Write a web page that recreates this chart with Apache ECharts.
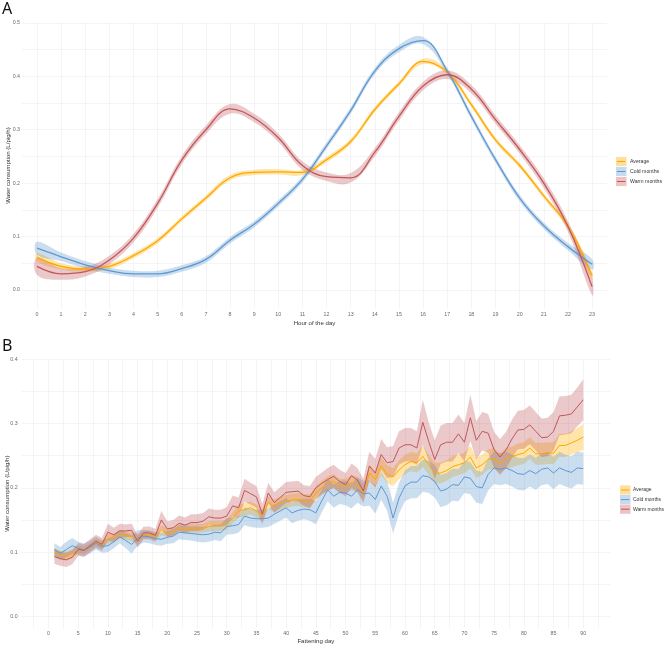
<!DOCTYPE html>
<html>
<head>
<meta charset="utf-8">
<script src="https://cdn.jsdelivr.net/npm/echarts@6/dist/echarts.min.js"></script>
<style>
  html, body { margin: 0; padding: 0; background: #fff; }
  #chart { width: 669px; height: 648px; }
</style>
</head>
<body>
<div id="chart"></div>
<script>
  // ---- panel A: hour of the day ----
  const hours = [0, 1, 2, 3, 4, 5, 6, 7, 8, 9, 10, 11, 12, 13, 14, 15, 16, 17, 18, 19, 20, 21, 22, 23]
  const avgHour = [0.061, 0.044, 0.039, 0.044, 0.064, 0.092, 0.133, 0.172, 0.210, 0.220, 0.221, 0.220,
    0.244, 0.278, 0.338, 0.386, 0.428, 0.408, 0.347, 0.281, 0.233, 0.176, 0.119, 0.027]
  const coldHour = [0.078, 0.062, 0.047, 0.036, 0.030, 0.030, 0.040, 0.057, 0.093, 0.123, 0.162, 0.207,
    0.270, 0.336, 0.410, 0.452, 0.467, 0.410, 0.325, 0.244, 0.172, 0.120, 0.081, 0.048]
  const warmHour = [0.044, 0.030, 0.034, 0.056, 0.097, 0.162, 0.243, 0.300, 0.339, 0.322, 0.285, 0.233,
    0.212, 0.210, 0.258, 0.325, 0.382, 0.403, 0.376, 0.319, 0.263, 0.200, 0.119, 0.006]
  // half width of the ribbons
  const avgHourCI = [0.008, 0.006, 0.005, 0.005, 0.005, 0.005, 0.005, 0.005, 0.005, 0.005, 0.005, 0.005,
    0.005, 0.005, 0.005, 0.005, 0.005, 0.005, 0.005, 0.005, 0.005, 0.005, 0.006, 0.008]
  const coldHourCI = [0.012, 0.008, 0.007, 0.006, 0.006, 0.006, 0.006, 0.006, 0.006, 0.006, 0.006, 0.006,
    0.006, 0.006, 0.006, 0.007, 0.007, 0.006, 0.006, 0.006, 0.006, 0.006, 0.007, 0.010]
  const warmHourCI = [0.016, 0.011, 0.009, 0.008, 0.008, 0.008, 0.008, 0.008, 0.009, 0.008, 0.008, 0.008,
    0.008, 0.009, 0.008, 0.008, 0.008, 0.008, 0.008, 0.008, 0.008, 0.009, 0.010, 0.016]
  const yLabelsA = [0, 0.1, 0.2, 0.3, 0.4, 0.5]

  // ---- panel B: fattening day ----
  const days = Array.from({ length: 90 }, (_, i) => i + 1)
  const avgDay = [0.100, 0.095, 0.094, 0.098, 0.104, 0.103, 0.108, 0.115, 0.111, 0.121,
    0.122, 0.128, 0.126, 0.124, 0.120, 0.127, 0.127, 0.124, 0.134, 0.130,
    0.132, 0.138, 0.136, 0.137, 0.137, 0.137, 0.140, 0.141, 0.141, 0.143,
    0.153, 0.164, 0.166, 0.169, 0.164, 0.157, 0.177, 0.172, 0.176, 0.179,
    0.181, 0.182, 0.180, 0.179, 0.192, 0.200, 0.207, 0.210, 0.203, 0.203,
    0.208, 0.205, 0.192, 0.223, 0.213, 0.234, 0.221, 0.217, 0.228, 0.236,
    0.241, 0.239, 0.249, 0.236, 0.223, 0.223, 0.227, 0.233, 0.236, 0.239,
    0.248, 0.231, 0.236, 0.244, 0.246, 0.238, 0.246, 0.248, 0.252, 0.254,
    0.262, 0.253, 0.253, 0.254, 0.254, 0.266, 0.266, 0.270, 0.274, 0.279]
  const coldDay = [0.104, 0.098, 0.104, 0.110, 0.106, 0.103, 0.108, 0.114, 0.109, 0.110,
    0.116, 0.124, 0.118, 0.112, 0.122, 0.125, 0.124, 0.121, 0.120, 0.123,
    0.125, 0.131, 0.130, 0.129, 0.128, 0.127, 0.128, 0.131, 0.130, 0.140,
    0.141, 0.143, 0.156, 0.153, 0.152, 0.152, 0.153, 0.159, 0.164, 0.169,
    0.161, 0.165, 0.167, 0.166, 0.161, 0.180, 0.197, 0.187, 0.193, 0.192,
    0.187, 0.197, 0.191, 0.192, 0.182, 0.203, 0.187, 0.153, 0.184, 0.203,
    0.209, 0.209, 0.219, 0.217, 0.210, 0.195, 0.198, 0.205, 0.204, 0.217,
    0.215, 0.202, 0.200, 0.221, 0.231, 0.229, 0.231, 0.227, 0.222, 0.221,
    0.227, 0.222, 0.229, 0.231, 0.223, 0.231, 0.227, 0.224, 0.231, 0.230]
  const warmDay = [0.093, 0.090, 0.088, 0.092, 0.104, 0.103, 0.110, 0.117, 0.112, 0.131,
    0.127, 0.133, 0.133, 0.134, 0.117, 0.130, 0.130, 0.126, 0.150, 0.136,
    0.138, 0.145, 0.142, 0.146, 0.146, 0.148, 0.155, 0.153, 0.153, 0.156,
    0.172, 0.169, 0.196, 0.191, 0.186, 0.159, 0.192, 0.177, 0.185, 0.193,
    0.194, 0.195, 0.188, 0.186, 0.200, 0.207, 0.213, 0.218, 0.210, 0.205,
    0.219, 0.212, 0.195, 0.234, 0.223, 0.252, 0.239, 0.241, 0.262, 0.267,
    0.267, 0.262, 0.302, 0.272, 0.244, 0.267, 0.271, 0.271, 0.284, 0.271,
    0.309, 0.274, 0.288, 0.285, 0.259, 0.248, 0.259, 0.276, 0.290, 0.291,
    0.298, 0.288, 0.278, 0.279, 0.288, 0.312, 0.313, 0.315, 0.326, 0.337]
  const avgDayCI = [0.007, 0.007, 0.007, 0.007, 0.006, 0.006, 0.006, 0.006, 0.006, 0.007,
    0.007, 0.007, 0.007, 0.007, 0.007, 0.006, 0.006, 0.006, 0.008, 0.007,
    0.007, 0.007, 0.007, 0.007, 0.007, 0.007, 0.008, 0.008, 0.008, 0.008,
    0.009, 0.010, 0.010, 0.010, 0.010, 0.010, 0.010, 0.010, 0.010, 0.010,
    0.010, 0.010, 0.010, 0.011, 0.011, 0.011, 0.011, 0.011, 0.011, 0.011,
    0.012, 0.012, 0.012, 0.013, 0.013, 0.014, 0.014, 0.014, 0.015, 0.015,
    0.015, 0.015, 0.017, 0.016, 0.016, 0.016, 0.016, 0.016, 0.016, 0.016,
    0.018, 0.016, 0.016, 0.016, 0.016, 0.016, 0.016, 0.016, 0.017, 0.017,
    0.017, 0.017, 0.017, 0.017, 0.017, 0.018, 0.018, 0.018, 0.019, 0.020]
  const coldDayCI = [0.010, 0.010, 0.012, 0.012, 0.010, 0.010, 0.010, 0.010, 0.010, 0.010,
    0.010, 0.010, 0.012, 0.014, 0.012, 0.010, 0.010, 0.010, 0.010, 0.010,
    0.011, 0.011, 0.011, 0.011, 0.012, 0.012, 0.012, 0.012, 0.013, 0.013,
    0.013, 0.013, 0.014, 0.014, 0.014, 0.014, 0.014, 0.015, 0.015, 0.015,
    0.016, 0.016, 0.016, 0.017, 0.018, 0.018, 0.018, 0.018, 0.018, 0.019,
    0.019, 0.020, 0.020, 0.020, 0.022, 0.022, 0.023, 0.024, 0.024, 0.024,
    0.025, 0.025, 0.025, 0.025, 0.025, 0.025, 0.025, 0.025, 0.025, 0.025,
    0.025, 0.025, 0.025, 0.025, 0.025, 0.025, 0.025, 0.025, 0.025, 0.025,
    0.025, 0.025, 0.025, 0.025, 0.025, 0.025, 0.025, 0.025, 0.025, 0.025]
  const warmDayCI = [0.011, 0.011, 0.011, 0.011, 0.010, 0.010, 0.010, 0.010, 0.010, 0.013,
    0.011, 0.011, 0.010, 0.010, 0.010, 0.010, 0.010, 0.010, 0.014, 0.012,
    0.012, 0.012, 0.012, 0.013, 0.013, 0.013, 0.013, 0.013, 0.013, 0.014,
    0.016, 0.016, 0.018, 0.017, 0.017, 0.016, 0.016, 0.016, 0.016, 0.016,
    0.016, 0.016, 0.016, 0.017, 0.017, 0.017, 0.018, 0.018, 0.018, 0.018,
    0.019, 0.019, 0.019, 0.022, 0.022, 0.024, 0.024, 0.024, 0.026, 0.026,
    0.026, 0.026, 0.035, 0.030, 0.030, 0.030, 0.030, 0.030, 0.030, 0.030,
    0.036, 0.030, 0.030, 0.030, 0.028, 0.028, 0.028, 0.030, 0.030, 0.030,
    0.030, 0.030, 0.030, 0.030, 0.030, 0.030, 0.030, 0.030, 0.030, 0.032]
  const dayLabels = [0, 5, 10, 15, 20, 25, 30, 35, 40, 45, 50, 55, 60, 65, 70, 75, 80, 85, 90]
  const yLabelsB = [0, 0.1, 0.2, 0.3, 0.4]

  const groups = ['Average', 'Cold months', 'Warm months']
  const lineColors = ['#FFA600', '#5E97D1', '#C2565B']
  const fillColors = ['rgba(255,186,30,0.38)', 'rgba(94,151,209,0.32)', 'rgba(194,86,91,0.32)']
  const keyFills = ['#FFDF9E', '#C6DBF0', '#EDC3C4']

  // grid line positions (major + minor)
  function steps (from, to, step) {
    const out = []
    for (let v = from; v <= to + 1e-9; v += step) out.push(Math.round(v * 1000) / 1000)
    return out
  }
  const gridYA = steps(0, 0.5, 0.05)
  const gridXB = steps(-2.5, 92.5, 2.5)
  const gridYB = steps(0, 0.4, 0.05)

  const labelStyle = { fontFamily: 'Liberation Sans', fontSize: 5.3, color: '#6b6b6b' }
  const nameStyle = { fontFamily: 'Liberation Sans', fontSize: 6.1, color: '#333' }
  const gridLine = { lineStyle: { color: '#ececec', width: 0.6 } }

  function band (xs, mean, ci, fill, idx, smooth) {
    const lo = mean.map((v, i) => v - ci[i])
    const hi = mean.map((v, i) => v + ci[i])
    return {
      type: 'custom',
      xAxisIndex: idx,
      yAxisIndex: idx,
      silent: true,
      data: xs.map((x, i) => [x, lo[i], hi[i]]),
      encode: { x: 0, y: [1, 2] },
      renderItem (params, api) {
        if (params.dataIndex !== 0) return
        const pts = []
        for (let i = 0; i < xs.length; i++) pts.push(api.coord([xs[i], hi[i]]))
        for (let i = xs.length - 1; i >= 0; i--) pts.push(api.coord([xs[i], lo[i]]))
        return {
          type: 'polygon',
          shape: { points: pts, smooth: smooth },
          style: { fill: fill }
        }
      }
    }
  }

  function line (name, xs, mean, color, idx, width, smooth) {
    return {
      name: name,
      type: 'line',
      xAxisIndex: idx,
      yAxisIndex: idx,
      data: xs.map((x, i) => [x, mean[i]]),
      symbol: 'none',
      smooth: smooth,
      lineStyle: { color: color, width: width },
      silent: true
    }
  }

  function legendKeys (x, y0, gap, textX, size) {
    const els = []
    groups.forEach((g, i) => {
      const cy = y0 + i * gap
      els.push({ type: 'rect', left: x, top: cy - 4.6, shape: { width: 10.5, height: 9.2 }, style: { fill: keyFills[i] } })
      els.push({ type: 'line', shape: { x1: x + 1, y1: cy, x2: x + 9.5, y2: cy }, style: { stroke: lineColors[i], lineWidth: 1 } })
      els.push({ type: 'text', x: textX, y: cy, style: { text: g, fontFamily: 'Liberation Sans', fontSize: size, fill: '#333', verticalAlign: 'middle' } })
    })
    return els
  }

  const hourData = [avgHour, coldHour, warmHour]
  const hourCI = [avgHourCI, coldHourCI, warmHourCI]
  const dayData = [avgDay, coldDay, warmDay]
  const dayCI = [avgDayCI, coldDayCI, warmDayCI]

  const series = []
  groups.forEach((g, i) => series.push(band(hours, hourData[i], hourCI[i], fillColors[i], 0, 0.4)))
  groups.forEach((g, i) => series.push(band(days, dayData[i], dayCI[i], fillColors[i], 1, 0)))
  groups.forEach((g, i) => series.push(line(g, hours, hourData[i], lineColors[i], 0, 1.3, 0.4)))
  groups.forEach((g, i) => series.push(line(g, days, dayData[i], lineColors[i], 1, 1, false)))

  const option = {
    animation: false,
    backgroundColor: '#fff',
    grid: [
      { left: 22, right: 62, top: 23, height: 285, containLabel: false, outerBoundsMode: 'none' },
      { left: 21.7, right: 59, top: 359.3, height: 268.7, containLabel: false, outerBoundsMode: 'none' }
    ],
    xAxis: [
      {
        gridIndex: 0,
        type: 'value',
        min: -0.62,
        max: 23.62,
        axisLine: { show: false },
        axisTick: { show: false, customValues: hours },
        axisLabel: { customValues: hours, margin: 4, ...labelStyle },
        splitLine: gridLine,
        name: 'Hour of the day',
        nameLocation: 'middle',
        nameGap: 12.5,
        nameMoveOverlap: false,
        nameTextStyle: nameStyle
      },
      {
        gridIndex: 1,
        type: 'value',
        min: -4.5,
        max: 94.5,
        axisLine: { show: false },
        axisTick: { show: false, customValues: gridXB },
        axisLabel: { customValues: dayLabels, margin: 3.5, ...labelStyle },
        splitLine: gridLine,
        name: 'Fattening day',
        nameLocation: 'middle',
        nameGap: 10.5,
        nameMoveOverlap: false,
        nameTextStyle: nameStyle
      }
    ],
    yAxis: [
      {
        gridIndex: 0,
        type: 'value',
        min: -0.034,
        max: 0.5,
        axisLine: { show: false },
        axisTick: { show: false, customValues: gridYA },
        axisLabel: { customValues: yLabelsA, margin: 2, formatter: v => v.toFixed(1), ...labelStyle },
        splitLine: gridLine,
        name: 'Water consumption (L/pig/h)',
        nameLocation: 'middle',
        nameRotate: 90,
        nameGap: 11,
        nameMoveOverlap: false,
        nameTextStyle: nameStyle
      },
      {
        gridIndex: 1,
        type: 'value',
        min: -0.018,
        max: 0.4,
        axisLine: { show: false },
        axisTick: { show: false, customValues: gridYB },
        axisLabel: { customValues: yLabelsB, margin: 4, formatter: v => v.toFixed(1), ...labelStyle },
        splitLine: gridLine,
        name: 'Water consumption (L/pig/h)',
        nameLocation: 'middle',
        nameRotate: 90,
        nameGap: 11,
        nameMoveOverlap: false,
        nameTextStyle: nameStyle
      }
    ],
    graphic: [
      { type: 'text', x: 2, y: 9.5, style: { text: 'A', fontFamily: 'Noto Sans', fontSize: 16, fill: '#111', verticalAlign: 'middle' } },
      { type: 'text', x: 2, y: 346, style: { text: 'B', fontFamily: 'Noto Sans', fontSize: 16, fill: '#111', verticalAlign: 'middle' } },
      ...legendKeys(616, 161.5, 10, 630, 5.2),
      ...legendKeys(620, 490, 9.6, 633, 5.0)
    ],
    series: series
  }

  const chart = echarts.init(document.getElementById('chart'))
  chart.setOption(option)
  window.addEventListener('resize', () => {
    chart.resize()
  })
</script>
</body>
</html>
